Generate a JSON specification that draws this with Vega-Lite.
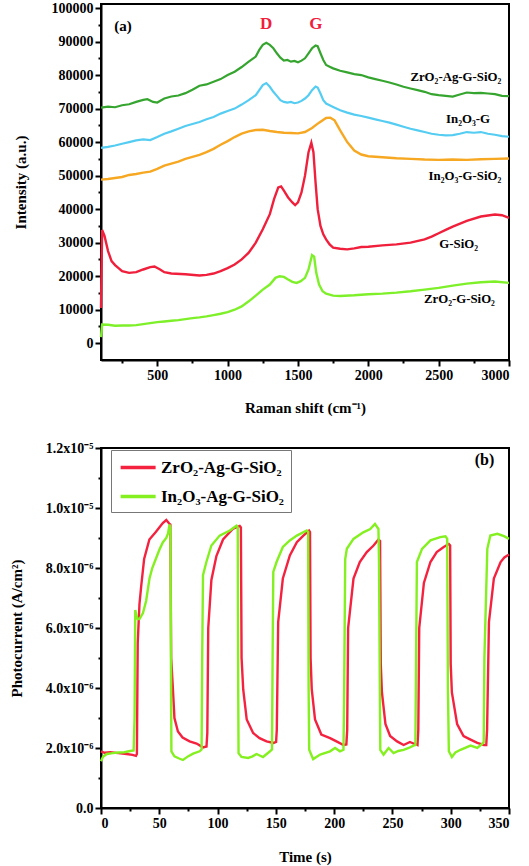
{
  "$schema": "https://vega.github.io/schema/vega-lite/v6.json",
  "background": "white",
  "padding": {"left": 8, "top": 0, "right": 12, "bottom": 3},
  "spacing": 24,
  "resolve": {"legend": {"color": "independent"}, "scale": {"color": "independent"}},
  "config": {
    "view": {"stroke": "black", "strokeWidth": 2},
    "font": "Liberation Serif",
    "axis": {"grid": false, "domainColor": "black", "domainWidth": 2, "tickColor": "black", "tickWidth": 2,
      "labelFont": "Liberation Serif", "labelFontWeight": "bold", "labelFontSize": 14, "labelColor": "black",
      "titleFont": "Liberation Serif", "titleFontWeight": "bold", "titleFontSize": 15, "titleColor": "black"},
    "text": {"font": "Liberation Serif", "fontWeight": "bold"}
  },
  "vconcat": [
    {
      "width": 408,
      "height": 356,
      "encoding": {
        "x": {"field": "x", "type": "quantitative", "scale": {"domain": [100, 3000], "nice": false, "zero": false},
          "axis": {"title": "Raman shift (cm⁻¹)", "values": [250,500,750,1000,1250,1500,1750,2000,2250,2500,2750,3000],
            "labelExpr": "datum.value % 500 == 0 ? format(datum.value, 'd') : ''",
            "tickSize": {"condition": {"test": "datum.value % 500 == 0", "value": 6}, "value": 3},
            "titlePadding": 18}},
        "y": {"field": "y", "type": "quantitative", "scale": {"domain": [-5000, 101200], "nice": false, "zero": false},
          "axis": {"title": "Intensity (a.u.)", "values": [0,5000,10000,15000,20000,25000,30000,35000,40000,45000,50000,55000,60000,65000,70000,75000,80000,85000,90000,95000,100000],
            "labelExpr": "datum.value % 10000 == 0 ? format(datum.value, 'd') : ''",
            "tickSize": {"condition": {"test": "datum.value % 10000 == 0", "value": 6}, "value": 3},
            "titlePadding": 23}}
      },
      "layer": [
        {
          "data": {"values": [
            {"x":100,"y":70300},{"x":150,"y":70600},{"x":200,"y":70400},{"x":250,"y":71000},{"x":300,"y":71300},{"x":350,"y":72000},{"x":400,"y":72600},{"x":430,"y":72800},{"x":470,"y":72000},{"x":500,"y":71800},{"x":550,"y":73000},{"x":600,"y":73600},{"x":650,"y":73900},{"x":700,"y":74600},{"x":750,"y":75600},{"x":800,"y":76800},{"x":850,"y":77200},{"x":900,"y":78000},{"x":950,"y":78800},{"x":1000,"y":80000},{"x":1050,"y":81000},{"x":1100,"y":82400},{"x":1150,"y":84000},{"x":1200,"y":85500},{"x":1225,"y":87500},{"x":1250,"y":89000},{"x":1275,"y":89600},{"x":1300,"y":89000},{"x":1325,"y":88000},{"x":1350,"y":86500},{"x":1375,"y":85200},{"x":1400,"y":84300},{"x":1425,"y":84500},{"x":1450,"y":84000},{"x":1475,"y":84200},{"x":1500,"y":83800},{"x":1525,"y":84300},{"x":1550,"y":85000},{"x":1575,"y":86500},{"x":1600,"y":88000},{"x":1625,"y":88800},{"x":1640,"y":88600},{"x":1660,"y":86500},{"x":1680,"y":84500},{"x":1700,"y":83000},{"x":1725,"y":82500},{"x":1750,"y":82000},{"x":1800,"y":81300},{"x":1850,"y":80800},{"x":1900,"y":80300},{"x":1950,"y":80000},{"x":2000,"y":79300},{"x":2050,"y":78800},{"x":2100,"y":78300},{"x":2150,"y":77800},{"x":2200,"y":77200},{"x":2250,"y":76500},{"x":2300,"y":76000},{"x":2350,"y":75500},{"x":2400,"y":75000},{"x":2450,"y":74300},{"x":2500,"y":74000},{"x":2550,"y":73800},{"x":2600,"y":73600},{"x":2650,"y":74200},{"x":2700,"y":74800},{"x":2750,"y":74600},{"x":2800,"y":74700},{"x":2850,"y":74500},{"x":2900,"y":74300},{"x":2950,"y":73800},{"x":3000,"y":73700}
          ]},
          "mark": {"type": "line", "color": "#36a52f", "strokeWidth": 2.2}
        },
        {
          "data": {"values": [
            {"x":100,"y":58300},{"x":150,"y":58600},{"x":200,"y":59000},{"x":250,"y":59500},{"x":300,"y":60000},{"x":350,"y":60500},{"x":400,"y":60800},{"x":450,"y":60600},{"x":500,"y":61500},{"x":550,"y":62500},{"x":600,"y":63200},{"x":650,"y":64000},{"x":700,"y":64800},{"x":750,"y":65400},{"x":800,"y":66000},{"x":850,"y":66800},{"x":900,"y":67500},{"x":950,"y":68500},{"x":1000,"y":69300},{"x":1050,"y":70000},{"x":1100,"y":71200},{"x":1150,"y":72500},{"x":1200,"y":74000},{"x":1225,"y":75500},{"x":1250,"y":77000},{"x":1275,"y":77600},{"x":1300,"y":76500},{"x":1325,"y":75000},{"x":1350,"y":73800},{"x":1375,"y":72500},{"x":1400,"y":72000},{"x":1425,"y":71800},{"x":1450,"y":72000},{"x":1475,"y":71600},{"x":1500,"y":71800},{"x":1525,"y":72300},{"x":1550,"y":73000},{"x":1575,"y":74000},{"x":1600,"y":75500},{"x":1625,"y":76600},{"x":1640,"y":76300},{"x":1660,"y":74500},{"x":1680,"y":72500},{"x":1700,"y":71500},{"x":1725,"y":71000},{"x":1750,"y":70500},{"x":1800,"y":69500},{"x":1850,"y":68800},{"x":1900,"y":68200},{"x":1950,"y":67800},{"x":2000,"y":67300},{"x":2050,"y":66800},{"x":2100,"y":66300},{"x":2150,"y":65800},{"x":2200,"y":65200},{"x":2250,"y":64600},{"x":2300,"y":64000},{"x":2350,"y":63500},{"x":2400,"y":63000},{"x":2450,"y":62500},{"x":2500,"y":62200},{"x":2550,"y":62000},{"x":2600,"y":62100},{"x":2650,"y":62500},{"x":2700,"y":63000},{"x":2750,"y":62800},{"x":2800,"y":63000},{"x":2850,"y":62500},{"x":2900,"y":62200},{"x":2950,"y":61800},{"x":3000,"y":61600}
          ]},
          "mark": {"type": "line", "color": "#55cdf2", "strokeWidth": 2.2}
        },
        {
          "data": {"values": [
            {"x":100,"y":48800},{"x":150,"y":49000},{"x":200,"y":49300},{"x":250,"y":49600},{"x":300,"y":50200},{"x":350,"y":50500},{"x":400,"y":50900},{"x":450,"y":51200},{"x":500,"y":52000},{"x":550,"y":53000},{"x":600,"y":53600},{"x":650,"y":54200},{"x":700,"y":55000},{"x":750,"y":55600},{"x":800,"y":56200},{"x":850,"y":57000},{"x":900,"y":58000},{"x":950,"y":59200},{"x":1000,"y":60300},{"x":1050,"y":61500},{"x":1100,"y":62500},{"x":1150,"y":63200},{"x":1200,"y":63600},{"x":1250,"y":63700},{"x":1300,"y":63300},{"x":1350,"y":63000},{"x":1400,"y":62800},{"x":1450,"y":62700},{"x":1500,"y":62600},{"x":1550,"y":63000},{"x":1600,"y":64200},{"x":1650,"y":65800},{"x":1700,"y":67200},{"x":1730,"y":67300},{"x":1760,"y":66500},{"x":1800,"y":63500},{"x":1850,"y":60000},{"x":1900,"y":57500},{"x":1950,"y":56300},{"x":2000,"y":55800},{"x":2100,"y":55500},{"x":2200,"y":55200},{"x":2300,"y":55000},{"x":2400,"y":54800},{"x":2500,"y":54700},{"x":2600,"y":54800},{"x":2700,"y":54700},{"x":2800,"y":54900},{"x":2900,"y":55000},{"x":3000,"y":55100}
          ]},
          "mark": {"type": "line", "color": "#f7a823", "strokeWidth": 2.4}
        },
        {
          "data": {"values": [
            {"x":100,"y":10500},{"x":108,"y":33800},{"x":125,"y":32000},{"x":150,"y":27500},{"x":175,"y":24500},{"x":200,"y":23300},{"x":250,"y":21500},{"x":300,"y":21000},{"x":350,"y":21200},{"x":400,"y":22000},{"x":450,"y":22700},{"x":480,"y":22900},{"x":520,"y":22000},{"x":550,"y":21200},{"x":600,"y":20800},{"x":700,"y":20600},{"x":800,"y":20200},{"x":850,"y":20400},{"x":900,"y":20800},{"x":950,"y":21500},{"x":1000,"y":22400},{"x":1050,"y":23500},{"x":1100,"y":25000},{"x":1150,"y":27000},{"x":1200,"y":30000},{"x":1250,"y":34000},{"x":1300,"y":38500},{"x":1330,"y":43000},{"x":1360,"y":46500},{"x":1380,"y":46800},{"x":1400,"y":45500},{"x":1430,"y":43500},{"x":1460,"y":42000},{"x":1480,"y":41200},{"x":1500,"y":42000},{"x":1525,"y":45000},{"x":1550,"y":50000},{"x":1575,"y":57000},{"x":1595,"y":59800},{"x":1610,"y":57000},{"x":1625,"y":48000},{"x":1640,"y":40000},{"x":1660,"y":35000},{"x":1680,"y":32500},{"x":1700,"y":31000},{"x":1725,"y":29500},{"x":1750,"y":28500},{"x":1800,"y":28200},{"x":1850,"y":28000},{"x":1900,"y":28300},{"x":1950,"y":28700},{"x":2000,"y":28800},{"x":2100,"y":29200},{"x":2200,"y":29500},{"x":2300,"y":30000},{"x":2400,"y":31000},{"x":2450,"y":31800},{"x":2500,"y":32800},{"x":2550,"y":33800},{"x":2600,"y":34800},{"x":2700,"y":36500},{"x":2800,"y":37800},{"x":2900,"y":38400},{"x":2950,"y":38200},{"x":3000,"y":37400}
          ]},
          "mark": {"type": "line", "color": "#f0203c", "strokeWidth": 2.4}
        },
        {
          "data": {"values": [
            {"x":100,"y":1800},{"x":108,"y":5600},{"x":150,"y":5500},{"x":200,"y":5200},{"x":250,"y":5300},{"x":300,"y":5300},{"x":350,"y":5400},{"x":400,"y":5700},{"x":450,"y":6000},{"x":500,"y":6300},{"x":550,"y":6500},{"x":600,"y":6700},{"x":650,"y":6900},{"x":700,"y":7200},{"x":750,"y":7500},{"x":800,"y":7700},{"x":850,"y":8000},{"x":900,"y":8400},{"x":950,"y":8800},{"x":1000,"y":9300},{"x":1050,"y":10000},{"x":1100,"y":11000},{"x":1150,"y":12500},{"x":1200,"y":14200},{"x":1250,"y":16000},{"x":1300,"y":17500},{"x":1340,"y":19500},{"x":1370,"y":20000},{"x":1400,"y":19800},{"x":1430,"y":19000},{"x":1460,"y":18300},{"x":1490,"y":18000},{"x":1520,"y":18500},{"x":1550,"y":19500},{"x":1575,"y":22000},{"x":1600,"y":26300},{"x":1615,"y":25800},{"x":1630,"y":21000},{"x":1650,"y":17500},{"x":1675,"y":15500},{"x":1700,"y":14800},{"x":1750,"y":14200},{"x":1800,"y":14100},{"x":1900,"y":14300},{"x":2000,"y":14600},{"x":2100,"y":14800},{"x":2200,"y":15100},{"x":2300,"y":15500},{"x":2400,"y":16000},{"x":2500,"y":16500},{"x":2600,"y":17200},{"x":2700,"y":17800},{"x":2800,"y":18200},{"x":2900,"y":18400},{"x":3000,"y":18000}
          ]},
          "mark": {"type": "line", "color": "#7ef02a", "strokeWidth": 2.4}
        },
        {
          "data": {"values": [
            {"x":2945,"y":79400,"t":"ZrO₂-Ag-G-SiO₂"},
            {"x":2865,"y":66900,"t":"In₂O₃-G"},
            {"x":2945,"y":49900,"t":"In₂O₃-G-SiO₂"},
            {"x":2780,"y":29500,"t":"G-SiO₂"},
            {"x":2900,"y":13100,"t":"ZrO₂-G-SiO₂"}
          ]},
          "mark": {"type": "text", "align": "right", "baseline": "middle", "fontSize": 12.8, "color": "black"},
          "encoding": {"text": {"field": "t", "type": "nominal"}}
        },
        {
          "data": {"values": [
            {"x":1273,"y":95300,"t":"D"},
            {"x":1628,"y":95300,"t":"G"}
          ]},
          "mark": {"type": "text", "align": "center", "baseline": "middle", "fontSize": 17, "color": "#f0203c"},
          "encoding": {"text": {"field": "t", "type": "nominal"}}
        },
        {
          "data": {"values": [
            {"x":256,"y":94600,"t":"(a)"}
          ]},
          "mark": {"type": "text", "align": "center", "baseline": "middle", "fontSize": 15, "color": "black"},
          "encoding": {"text": {"field": "t", "type": "nominal"}}
        }
      ]
    },
    {
      "width": 408,
      "height": 360,
      "encoding": {
        "x": {"field": "t", "type": "quantitative", "scale": {"domain": [0, 350], "nice": false, "zero": false},
          "axis": {"title": "Time (s)", "values": [0,25,50,75,100,125,150,175,200,225,250,275,300,325,350],
            "labelExpr": "datum.value % 50 == 0 ? format(datum.value, 'd') : ''",
            "tickSize": {"condition": {"test": "datum.value % 50 == 0", "value": 6}, "value": 3},
            "titlePadding": 19}},
        "y": {"field": "v", "type": "quantitative", "scale": {"domain": [0, 0.000012], "nice": false, "zero": false},
          "axis": {"title": "Photocurrent (A/cm²)", "values": [0,1e-6,2e-6,3e-6,4e-6,5e-6,6e-6,7e-6,8e-6,9e-6,1e-5,1.1e-5,1.2e-5],
            "labelExpr": "round(datum.value*1e6) % 2 != 0 ? '' : (datum.value == 0 ? '0.0' : (datum.value >= 9.99e-6 ? format(datum.value*1e5, '.1f') + 'x10⁻⁵' : format(datum.value*1e6, '.1f') + 'x10⁻⁶'))",
            "tickSize": {"condition": {"test": "round(datum.value*1e6) % 2 == 0", "value": 6}, "value": 3},
            "titlePadding": 21}}
      },
      "layer": [
        {
          "data": {"values": [
            {"t":0,"v":1.89e-6},{"t":3,"v":1.84e-6},{"t":8,"v":1.86e-6},{"t":15,"v":1.83e-6},{"t":22,"v":1.8e-6},{"t":27,"v":1.77e-6},{"t":30,"v":1.74e-6},{"t":30.8,"v":1.8e-6},{"t":31.5,"v":5.5e-6},{"t":33,"v":6.8e-6},{"t":34.5,"v":7.4e-6},{"t":37,"v":8.3e-6},{"t":41.5,"v":8.95e-6},{"t":47,"v":9.2e-6},{"t":53,"v":9.5e-6},{"t":56,"v":9.6e-6},{"t":58.8,"v":9.47e-6},{"t":59.5,"v":9.45e-6},{"t":60.2,"v":5.0e-6},{"t":61.5,"v":4.1e-6},{"t":63,"v":3.0e-6},{"t":66,"v":2.55e-6},{"t":70,"v":2.35e-6},{"t":76,"v":2.22e-6},{"t":82,"v":2.15e-6},{"t":87.5,"v":2.02e-6},{"t":90.5,"v":2.05e-6},{"t":91.2,"v":2.5e-6},{"t":92,"v":6.0e-6},{"t":94.7,"v":7.6e-6},{"t":99,"v":8.4e-6},{"t":104.7,"v":8.95e-6},{"t":113,"v":9.3e-6},{"t":119,"v":9.4e-6},{"t":120,"v":9.35e-6},{"t":120.6,"v":5.0e-6},{"t":122,"v":3.95e-6},{"t":125,"v":2.95e-6},{"t":130.5,"v":2.5e-6},{"t":136,"v":2.33e-6},{"t":142,"v":2.22e-6},{"t":148,"v":2.17e-6},{"t":150.2,"v":2.2e-6},{"t":150.8,"v":2.6e-6},{"t":152,"v":6.2e-6},{"t":156,"v":7.65e-6},{"t":162,"v":8.42e-6},{"t":168,"v":8.86e-6},{"t":173.6,"v":9.08e-6},{"t":178.5,"v":9.25e-6},{"t":179.3,"v":9.2e-6},{"t":179.8,"v":5.0e-6},{"t":180.8,"v":3.95e-6},{"t":183.6,"v":2.95e-6},{"t":189,"v":2.45e-6},{"t":196.5,"v":2.33e-6},{"t":202,"v":2.22e-6},{"t":208,"v":2.1e-6},{"t":210.5,"v":2.12e-6},{"t":211.2,"v":2.6e-6},{"t":212,"v":6.0e-6},{"t":216.6,"v":7.65e-6},{"t":222,"v":8.2e-6},{"t":228,"v":8.53e-6},{"t":233.8,"v":8.75e-6},{"t":238,"v":8.95e-6},{"t":239.4,"v":8.9e-6},{"t":240,"v":4.8e-6},{"t":241,"v":3.85e-6},{"t":244,"v":2.8e-6},{"t":248,"v":2.4e-6},{"t":254,"v":2.22e-6},{"t":259.6,"v":2.1e-6},{"t":265,"v":2.2e-6},{"t":268,"v":2.15e-6},{"t":271.5,"v":2.1e-6},{"t":272.2,"v":2.6e-6},{"t":273,"v":6.0e-6},{"t":277,"v":7.5e-6},{"t":282.6,"v":8.2e-6},{"t":288,"v":8.53e-6},{"t":294,"v":8.7e-6},{"t":298.4,"v":8.8e-6},{"t":299.5,"v":8.75e-6},{"t":300,"v":4.8e-6},{"t":301,"v":3.85e-6},{"t":305.5,"v":2.8e-6},{"t":311,"v":2.4e-6},{"t":317,"v":2.28e-6},{"t":322.8,"v":2.17e-6},{"t":328.5,"v":2.1e-6},{"t":330.5,"v":2.1e-6},{"t":331.2,"v":2.6e-6},{"t":332.8,"v":6.2e-6},{"t":337,"v":7.65e-6},{"t":342.8,"v":8.2e-6},{"t":346,"v":8.35e-6},{"t":350,"v":8.45e-6}
          ]},
          "mark": {"type": "line", "strokeWidth": 2.4},
          "encoding": {"color": {"datum": "ZrO₂-Ag-G-SiO₂", "type": "nominal",
            "scale": {"domain": ["ZrO₂-Ag-G-SiO₂", "In₂O₃-Ag-G-SiO₂"], "range": ["#f5223f", "#84f01f"]},
            "legend": {"title": null, "orient": "none", "legendX": 10, "legendY": 2, "strokeColor": "#777777", "padding": 7,
              "symbolType": "M-0.9,0H3.1", "symbolStrokeWidth": 3.5, "symbolSize": 306, "symbolOffset": 0, "labelFont": "Liberation Serif", "labelFontWeight": "bold",
              "labelFontSize": 17, "labelColor": "black", "labelOffset": 22, "rowPadding": 10, "labelLimit": 300}}}
        },
        {
          "data": {"values": [
            {"t":0,"v":1.56e-6},{"t":1,"v":1.65e-6},{"t":2,"v":1.72e-6},{"t":5,"v":1.8e-6},{"t":10,"v":1.83e-6},{"t":15,"v":1.85e-6},{"t":20,"v":1.86e-6},{"t":25,"v":1.9e-6},{"t":28,"v":1.92e-6},{"t":28.8,"v":3.0e-6},{"t":29.4,"v":6.6e-6},{"t":30.5,"v":6.4e-6},{"t":31.5,"v":6.3e-6},{"t":33,"v":6.3e-6},{"t":36,"v":6.5e-6},{"t":38.7,"v":6.9e-6},{"t":41.6,"v":7.65e-6},{"t":44,"v":8.0e-6},{"t":47,"v":8.3e-6},{"t":50,"v":8.6e-6},{"t":53,"v":8.85e-6},{"t":56,"v":9.0e-6},{"t":57.5,"v":9.15e-6},{"t":58.8,"v":9.45e-6},{"t":59.6,"v":9.3e-6},{"t":60.1,"v":4.0e-6},{"t":60.4,"v":1.89e-6},{"t":63,"v":1.72e-6},{"t":67,"v":1.65e-6},{"t":70.3,"v":1.6e-6},{"t":74.6,"v":1.72e-6},{"t":79,"v":1.81e-6},{"t":84.6,"v":1.89e-6},{"t":86.3,"v":1.95e-6},{"t":86.8,"v":5.0e-6},{"t":87.5,"v":7.76e-6},{"t":90.4,"v":8.2e-6},{"t":94.7,"v":8.75e-6},{"t":101.8,"v":9.08e-6},{"t":110.5,"v":9.25e-6},{"t":116.2,"v":9.41e-6},{"t":117.3,"v":9.35e-6},{"t":117.7,"v":4.0e-6},{"t":118,"v":1.83e-6},{"t":120.5,"v":1.7e-6},{"t":126.2,"v":1.67e-6},{"t":130,"v":1.72e-6},{"t":133.4,"v":1.8e-6},{"t":139,"v":1.7e-6},{"t":145,"v":1.89e-6},{"t":146.7,"v":1.95e-6},{"t":147.2,"v":5.0e-6},{"t":147.8,"v":7.87e-6},{"t":150.6,"v":8.2e-6},{"t":156,"v":8.7e-6},{"t":162,"v":8.92e-6},{"t":168,"v":9.08e-6},{"t":176.5,"v":9.25e-6},{"t":177.7,"v":9.2e-6},{"t":178.1,"v":4.0e-6},{"t":178.6,"v":1.94e-6},{"t":182,"v":1.63e-6},{"t":188,"v":1.78e-6},{"t":196.5,"v":1.89e-6},{"t":200.8,"v":2.0e-6},{"t":205,"v":1.89e-6},{"t":208,"v":1.94e-6},{"t":208.5,"v":3.5e-6},{"t":209.5,"v":8.3e-6},{"t":210.9,"v":8.64e-6},{"t":216.6,"v":8.97e-6},{"t":225,"v":9.19e-6},{"t":231,"v":9.3e-6},{"t":235,"v":9.47e-6},{"t":238,"v":9.3e-6},{"t":238.5,"v":8.2e-6},{"t":239.2,"v":4.0e-6},{"t":239.6,"v":1.94e-6},{"t":242.4,"v":1.78e-6},{"t":246.7,"v":2.0e-6},{"t":251,"v":1.83e-6},{"t":255,"v":1.9e-6},{"t":259.6,"v":1.94e-6},{"t":264,"v":2.0e-6},{"t":268,"v":2.08e-6},{"t":269.7,"v":2.1e-6},{"t":270.3,"v":5.0e-6},{"t":271,"v":8.2e-6},{"t":275.4,"v":8.64e-6},{"t":282.6,"v":8.92e-6},{"t":291,"v":9.03e-6},{"t":295.5,"v":9.06e-6},{"t":297,"v":8.97e-6},{"t":297.6,"v":4.0e-6},{"t":298.4,"v":1.89e-6},{"t":301,"v":1.7e-6},{"t":304,"v":1.85e-6},{"t":308.4,"v":1.94e-6},{"t":317,"v":2.08e-6},{"t":322.8,"v":2.0e-6},{"t":327,"v":2.14e-6},{"t":328.3,"v":2.2e-6},{"t":328.9,"v":5.0e-6},{"t":331.4,"v":8.64e-6},{"t":334,"v":9.08e-6},{"t":340,"v":9.14e-6},{"t":345.7,"v":9.06e-6},{"t":350,"v":8.97e-6}
          ]},
          "mark": {"type": "line", "strokeWidth": 2.4},
          "encoding": {"color": {"datum": "In₂O₃-Ag-G-SiO₂", "type": "nominal"}}
        },
        {
          "data": {"values": [{"t": 329, "v": 0.0000116, "label": "(b)"}]},
          "mark": {"type": "text", "align": "center", "baseline": "middle", "fontSize": 16, "color": "black"},
          "encoding": {"text": {"field": "label", "type": "nominal"}}
        }
      ]
    }
  ]
}
